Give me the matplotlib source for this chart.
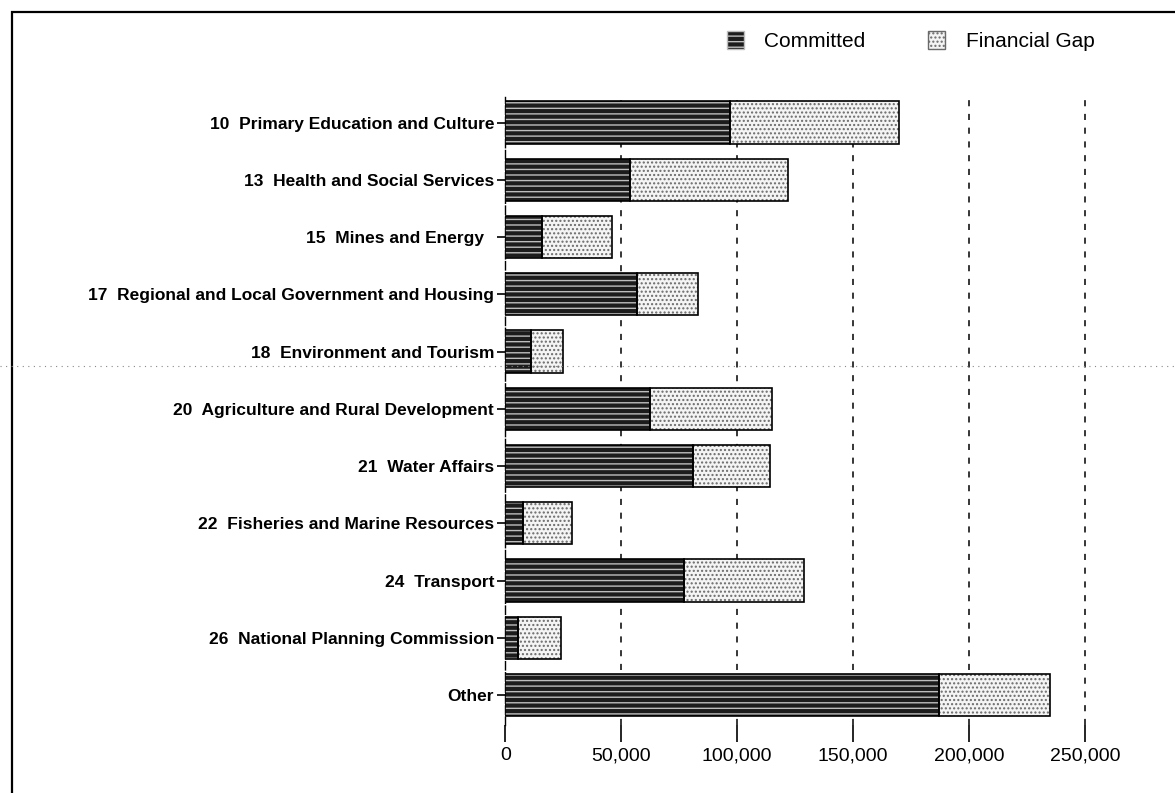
import numpy as np
import matplotlib.pyplot as plt
from matplotlib.patches import Patch, Rectangle
from matplotlib.lines import Line2D

plt.rcParams['font.family'] = ['Liberation Sans', 'DejaVu Sans']

# Data
categories = [
    "10  Primary Education and Culture",
    "13  Health and Social Services",
    "15  Mines and Energy  ",
    "17  Regional and Local Government and Housing",
    "18  Environment and Tourism",
    "20  Agriculture and Rural Development",
    "21  Water Affairs",
    "22  Fisheries and Marine Resources",
    "24  Transport",
    "26  National Planning Commission",
    "Other",
]
committed = [97000, 54000, 16000, 57000, 11000, 62500, 81000, 7500, 77000, 5500, 187000]
total = [170000, 122000, 46000, 83000, 25000, 115000, 114000, 29000, 129000, 24000, 235000]
financial_gap = [t - c for t, c in zip(total, committed)]
xticks = [0, 50000, 100000, 150000, 200000, 250000]

fig = plt.figure(figsize=(11.75, 7.93), dpi=100)
ax = fig.add_axes([0.430, 0.086, 0.517, 0.792])

y = np.arange(len(categories))
h = 0.74

# committed: dark, with streaky light texture
ax.barh(y, committed, height=h, color="#1c1c1c", edgecolor="#bdbdbd",
        hatch="---", linewidth=0, zorder=3)
ax.barh(y, committed, height=h, fill=False, edgecolor="black", linewidth=1.2, zorder=4)
# financial gap: light stipple
ax.barh(y, financial_gap, left=committed, height=h, color="#f4f4f4",
        edgecolor="#6a6a6a", hatch="....", linewidth=0, zorder=3)
ax.barh(y, financial_gap, left=committed, height=h, fill=False,
        edgecolor="black", linewidth=1.2, zorder=4)

ax.set_ylim(len(categories) - 0.48, -0.45)
ax.set_xlim(0, 262000)
ax.set_yticks(y)
ax.set_yticklabels(categories, fontsize=12.5, fontweight="bold")
ax.set_xticks(xticks)
ax.set_xticklabels([f"{v:,}" for v in xticks], fontsize=14)

for v in xticks[1:]:
    ax.axvline(v, color="black", linestyle=(0, (4, 5)), linewidth=1.1, zorder=1)

for s in ["top", "right", "bottom"]:
    ax.spines[s].set_visible(False)
ax.spines["left"].set_linestyle((0, (6, 2)))
ax.spines["left"].set_linewidth(1.0)
ax.tick_params(axis="y", length=6, width=1.2, pad=2)
ax.tick_params(axis="x", length=12, width=1.2, pad=4, direction="out")

handles = [
    Patch(facecolor="#1c1c1c", edgecolor="#bdbdbd", hatch="---"),
    Patch(facecolor="#f4f4f4", edgecolor="#6a6a6a", hatch="...."),
]
fig.legend(handles, ["Committed", "Financial Gap"], loc="center",
           bbox_to_anchor=(0.775, 0.948), ncol=2, frameon=False,
           fontsize=15, handlelength=0.8, handleheight=0.9,
           columnspacing=3.0, handletextpad=1.0)

# page frame and scan line
fig.add_artist(Rectangle((0.01, -0.05), 1.2, 1.035, transform=fig.transFigure,
                         fill=False, edgecolor="black", linewidth=1.6))
fig.add_artist(Line2D([0, 1], [0.538, 0.538], transform=fig.transFigure,
                      color="#888888", linestyle=(0, (1, 4)), linewidth=0.8))

fig.savefig("out.png", dpi=100)
